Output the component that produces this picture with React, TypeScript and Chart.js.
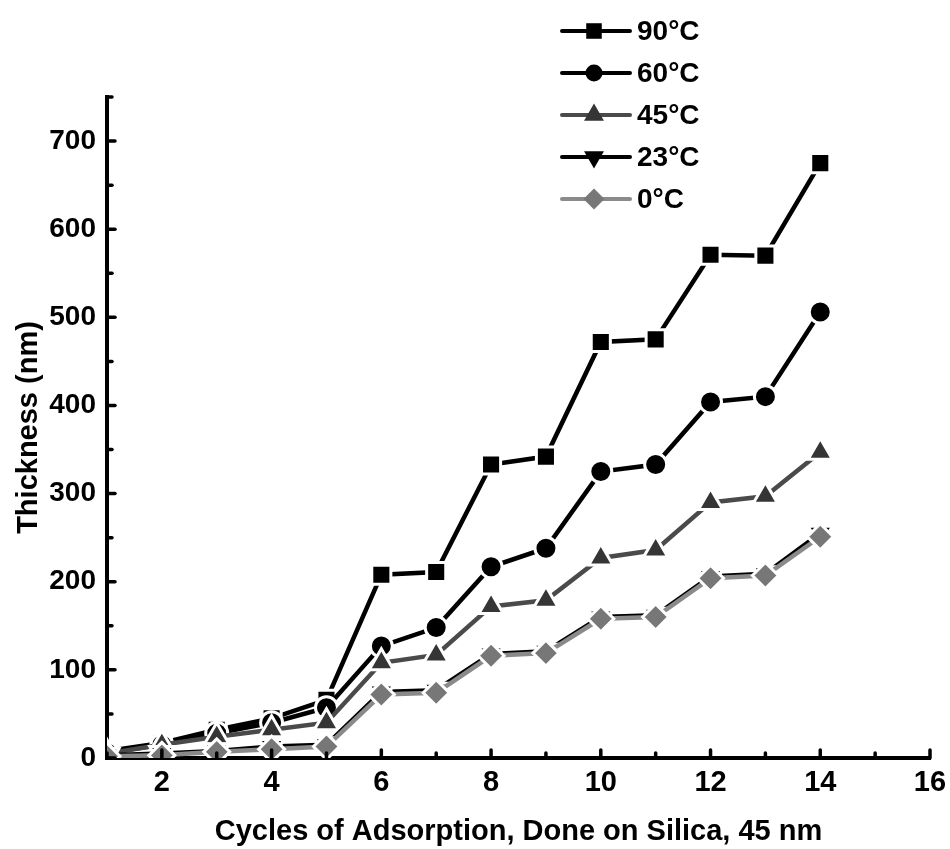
import React, { useEffect, useRef } from 'react';
import { Chart, registerables } from 'chart.js';
import { drawPoint } from 'chart.js/helpers';

Chart.register(...registerables);

const cycles = [1, 2, 3, 4, 5, 6, 7, 8, 9, 10, 11, 12, 13, 14];
const t90 = [8, 17, 32, 45, 66, 208, 211, 333, 342, 472, 475, 571, 570, 675];
const t60 = [6, 15, 28, 40, 57, 127, 148, 217, 238, 325, 333, 404, 410, 506];
const t45 = [5, 15, 24, 32, 40, 108, 117, 172, 179, 227, 236, 290, 297, 347];
const t23 = [3, 5, 8, 13, 15, 75, 77, 118, 121, 160, 162, 206, 209, 255];
const t0 = [2, 3, 7, 10, 13, 72, 74, 116, 119, 158, 160, 204, 207, 251];

const seriesLabels = ['90°C', '60°C', '45°C', '23°C', '0°C'];
const xTitle = 'Cycles of Adsorption, Done on Silica, 45 nm';
const yTitle = 'Thickness (nm)';

const FONT = '"Liberation Sans", Arial, sans-serif';

const toPts = (ys: number[]) => ys.map((y, i) => ({ x: cycles[i], y }));

const ticksPlugin = {
  id: 'innerTicks',
  afterDraw(chart: any) {
    const { ctx, chartArea, scales } = chart;
    ctx.save();
    ctx.strokeStyle = '#000';
    ctx.lineWidth = 3.5;
    ctx.lineCap = 'round';
    const xs = scales.x;
    xs.ticks.forEach((t: any) => {
      const px = xs.getPixelForValue(t.value);
      const len = t.value % 2 === 0 ? 8 : 5;
      ctx.beginPath();
      ctx.moveTo(px, chartArea.bottom);
      ctx.lineTo(px, chartArea.bottom - len);
      ctx.stroke();
    });
    const ys = scales.y;
    ys.ticks.forEach((t: any) => {
      const py = ys.getPixelForValue(t.value);
      const len = t.value % 100 === 0 ? 8 : 5;
      ctx.beginPath();
      ctx.moveTo(chartArea.left, py);
      ctx.lineTo(chartArea.left + len, py);
      ctx.stroke();
    });
    ctx.restore();
  },
};

const legendPlugin = {
  id: 'customLegend',
  afterDraw(chart: any) {
    const { ctx } = chart;
    ctx.save();
    const x1 = 562;
    const x2 = 630;
    const mx = 594;
    const tx = 637;
    const y0 = 31;
    const dy = 42;
    chart.data.datasets.forEach((ds: any, i: number) => {
      const y = y0 + i * dy;
      ctx.strokeStyle = ds.borderColor;
      ctx.lineWidth = 4;
      ctx.lineCap = 'round';
      ctx.beginPath();
      ctx.moveTo(x1, y);
      ctx.lineTo(x2, y);
      ctx.stroke();
      ctx.fillStyle = ds.pointBackgroundColor;
      ctx.strokeStyle = ds.pointBackgroundColor;
      drawPoint(ctx, {
        pointStyle: ds.pointStyle,
        rotation: ds.pointRotation || 0,
        radius: ds.pointRadius - 2.5,
        borderWidth: 0,
      } as any, mx, y);
      ctx.fillStyle = '#000';
      ctx.font = `bold 28px ${FONT}`;
      ctx.textBaseline = 'middle';
      ctx.textAlign = 'left';
      ctx.fillText(ds.label, tx, y + 1);
    });
    ctx.restore();
  },
};

export default function App() {
  const ref = useRef<HTMLCanvasElement | null>(null);

  useEffect(() => {
    if (!ref.current) return;
    const mk = (label: string, data: number[], line: string, fill: string, style: string, radius: number, rotation: number, order: number) => ({
      label,
      data: toPts(data),
      borderColor: line,
      borderWidth: 4.5,
      pointStyle: style,
      pointRadius: radius,
      pointRotation: rotation,
      pointBackgroundColor: fill,
      pointBorderColor: '#ffffff',
      pointBorderWidth: 3,
      fill: false,
      tension: 0,
      order,
    });
    const chart = new Chart(ref.current, {
      type: 'line',
      data: {
        datasets: [
          mk(seriesLabels[0], t90, '#000000', '#000000', 'rect', 13.5, 0, 4),
          mk(seriesLabels[1], t60, '#000000', '#000000', 'circle', 11, 0, 3),
          mk(seriesLabels[2], t45, '#4a4a4a', '#353535', 'triangle', 14, 0, 2),
          mk(seriesLabels[3], t23, '#000000', '#000000', 'triangle', 14, 180, 1),
          mk(seriesLabels[4], t0, '#8a8a8a', '#777777', 'rectRot', 13, 0, 0),
        ] as any,
      },
      options: {
        responsive: false,
        animation: false,
        events: [],
        layout: { padding: { left: 0, right: 20, top: 97, bottom: 0 } },
        plugins: {
          legend: { display: false },
          tooltip: { enabled: false },
        },
        scales: {
          x: {
            type: 'linear',
            min: 1,
            max: 16,
            afterFit: (s: any) => {
              s.height = 91;
            },
            grid: { display: false },
            border: { display: true, color: '#000', width: 4 },
            ticks: {
              stepSize: 1,
              autoSkip: false,
              maxRotation: 0,
              padding: 0,
              color: '#000',
              font: { family: FONT, weight: 'bold', size: 29 },
              callback: (v: any) => (Number(v) % 2 === 0 ? String(v) : ''),
            },
            title: {
              display: true,
              text: xTitle,
              color: '#000',
              font: { family: FONT, weight: 'bold', size: 29 },
              padding: { top: 0, bottom: 0 },
            },
          },
          y: {
            type: 'linear',
            min: 0,
            max: 750,
            afterFit: (s: any) => {
              s.width = 107;
            },
            grid: { display: false },
            border: { display: true, color: '#000', width: 4 },
            ticks: {
              stepSize: 50,
              autoSkip: false,
              padding: 3,
              color: '#000',
              font: { family: FONT, weight: 'bold', size: 28 },
              callback: (v: any) => (Number(v) % 100 === 0 ? String(v) : ''),
            },
            title: {
              display: true,
              text: yTitle,
              color: '#000',
              font: { family: FONT, weight: 'bold', size: 29 },
              padding: { top: 12, bottom: 0 },
            },
          },
        },
      } as any,
      plugins: [ticksPlugin, legendPlugin],
    });
    return () => chart.destroy();
  }, []);

  return (
    <div style={{ position: 'fixed', left: 0, top: 0, width: 950, height: 849, background: '#fff' }}>
      <canvas ref={ref} width={950} height={849} style={{ display: 'block', width: 950, height: 849 }} />
    </div>
  );
}
